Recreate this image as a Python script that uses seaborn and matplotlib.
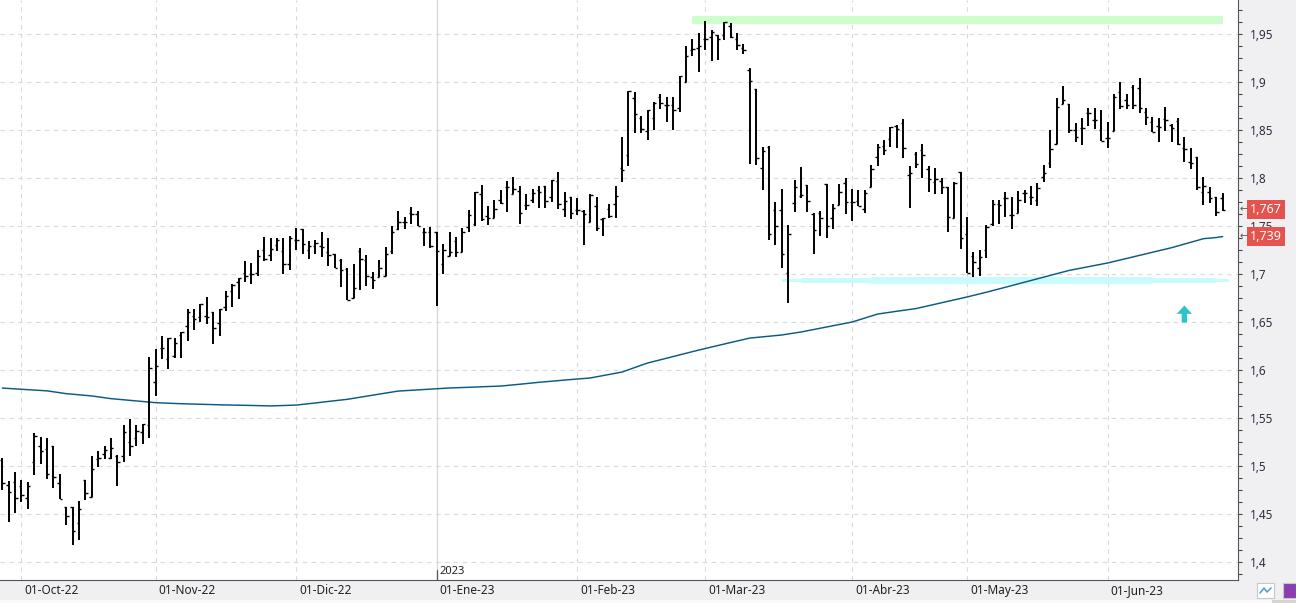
import numpy as np
import pandas as pd
import matplotlib
matplotlib.use("Agg")
import matplotlib.pyplot as plt
import matplotlib.ticker as mticker
import matplotlib.transforms as mtransforms
from matplotlib.patches import Rectangle
import seaborn as sns

# --------------- DATA ---------------
first_day = "2022-09-28"
last_day = "2023-06-27"
market_holidays = ["2023-04-07", "2023-04-10", "2023-05-01"]

opens = [
    1.506, 1.480, 1.483, 1.479, 1.467, 1.504, 1.521, 1.518, 1.521, 1.482, 1.457, 1.457,
    1.441, 1.485, 1.468, 1.507, 1.513, 1.508, 1.510, 1.510, 1.525, 1.529, 1.535, 1.543,
    1.588, 1.623, 1.612, 1.615, 1.636, 1.646, 1.656, 1.655, 1.656, 1.660, 1.649, 1.666,
    1.682, 1.692, 1.701, 1.700, 1.701, 1.725, 1.720, 1.730, 1.724, 1.710, 1.735, 1.747,
    1.725, 1.729, 1.729, 1.723, 1.721, 1.715, 1.705, 1.675, 1.724, 1.715, 1.697, 1.697,
    1.698, 1.724, 1.747, 1.754, 1.764, 1.763, 1.744, 1.744, 1.744, 1.710, 1.719, 1.734,
    1.723, 1.749, 1.752, 1.783, 1.760, 1.758, 1.777, 1.791, 1.783, 1.786, 1.772, 1.777,
    1.787, 1.792, 1.780, 1.797, 1.768, 1.780, 1.767, 1.766, 1.754, 1.771, 1.757, 1.768,
    1.773, 1.810, 1.824, 1.883, 1.862, 1.849, 1.862, 1.884, 1.876, 1.876, 1.873, 1.900,
    1.933, 1.935, 1.945, 1.947, 1.949, 1.949, 1.958, 1.945, 1.935, 1.912, 1.893, 1.810,
    1.832, 1.767, 1.767, 1.701, 1.774, 1.781, 1.793, 1.762, 1.764, 1.794, 1.758, 1.772,
    1.795, 1.775, 1.776, 1.768, 1.791, 1.822, 1.833, 1.841, 1.854, 1.857, 1.803, 1.825,
    1.829, 1.809, 1.796, 1.797, 1.791, 1.758, 1.806, 1.742, 1.719, 1.706, 1.725, 1.752,
    1.773, 1.779, 1.761, 1.764, 1.784, 1.780, 1.777, 1.801, 1.816, 1.835, 1.877, 1.877,
    1.850, 1.852, 1.868, 1.860, 1.850, 1.842, 1.849, 1.890, 1.881, 1.895, 1.894, 1.869,
    1.858, 1.854, 1.861, 1.855, 1.859, 1.831, 1.817, 1.822, 1.785, 1.785, 1.780, 1.779,
]
highs = [
    1.508, 1.484, 1.494, 1.485, 1.483, 1.534, 1.530, 1.529, 1.521, 1.492, 1.457, 1.457,
    1.464, 1.485, 1.510, 1.516, 1.521, 1.529, 1.511, 1.543, 1.549, 1.543, 1.544, 1.614,
    1.622, 1.635, 1.633, 1.633, 1.640, 1.664, 1.664, 1.669, 1.676, 1.660, 1.664, 1.682,
    1.690, 1.696, 1.714, 1.711, 1.725, 1.739, 1.737, 1.738, 1.737, 1.740, 1.748, 1.747,
    1.734, 1.735, 1.744, 1.738, 1.721, 1.716, 1.706, 1.710, 1.727, 1.720, 1.702, 1.715,
    1.728, 1.750, 1.766, 1.759, 1.770, 1.766, 1.748, 1.749, 1.744, 1.731, 1.744, 1.739,
    1.748, 1.767, 1.785, 1.793, 1.771, 1.777, 1.787, 1.797, 1.801, 1.792, 1.783, 1.789,
    1.792, 1.792, 1.798, 1.806, 1.785, 1.780, 1.779, 1.767, 1.783, 1.780, 1.758, 1.773,
    1.792, 1.843, 1.891, 1.890, 1.865, 1.871, 1.879, 1.888, 1.884, 1.884, 1.906, 1.937,
    1.945, 1.951, 1.964, 1.954, 1.949, 1.962, 1.961, 1.951, 1.940, 1.915, 1.893, 1.832,
    1.833, 1.775, 1.789, 1.751, 1.798, 1.811, 1.793, 1.764, 1.766, 1.794, 1.773, 1.794,
    1.800, 1.789, 1.788, 1.788, 1.814, 1.835, 1.840, 1.853, 1.855, 1.861, 1.813, 1.827,
    1.835, 1.812, 1.810, 1.800, 1.791, 1.796, 1.806, 1.759, 1.723, 1.725, 1.751, 1.777,
    1.777, 1.785, 1.780, 1.786, 1.788, 1.792, 1.795, 1.814, 1.850, 1.883, 1.896, 1.877,
    1.857, 1.863, 1.873, 1.873, 1.871, 1.858, 1.887, 1.900, 1.888, 1.897, 1.904, 1.873,
    1.864, 1.863, 1.874, 1.856, 1.863, 1.843, 1.831, 1.822, 1.801, 1.791, 1.780, 1.784,
]
lows = [
    1.475, 1.442, 1.451, 1.463, 1.455, 1.491, 1.502, 1.486, 1.477, 1.466, 1.439, 1.418,
    1.423, 1.465, 1.468, 1.499, 1.507, 1.507, 1.479, 1.504, 1.510, 1.521, 1.523, 1.529,
    1.573, 1.611, 1.601, 1.613, 1.613, 1.630, 1.642, 1.650, 1.648, 1.627, 1.635, 1.661,
    1.666, 1.674, 1.692, 1.690, 1.698, 1.714, 1.714, 1.724, 1.700, 1.704, 1.725, 1.721,
    1.716, 1.721, 1.718, 1.708, 1.706, 1.686, 1.673, 1.675, 1.683, 1.687, 1.684, 1.697,
    1.698, 1.721, 1.746, 1.747, 1.752, 1.750, 1.729, 1.727, 1.667, 1.700, 1.719, 1.718,
    1.723, 1.744, 1.750, 1.755, 1.751, 1.758, 1.773, 1.765, 1.783, 1.752, 1.767, 1.774,
    1.769, 1.769, 1.775, 1.768, 1.759, 1.757, 1.761, 1.730, 1.754, 1.745, 1.740, 1.758,
    1.758, 1.796, 1.813, 1.847, 1.847, 1.840, 1.850, 1.872, 1.858, 1.850, 1.869, 1.900,
    1.927, 1.910, 1.933, 1.922, 1.923, 1.944, 1.946, 1.933, 1.929, 1.815, 1.814, 1.787,
    1.735, 1.730, 1.706, 1.670, 1.765, 1.779, 1.765, 1.721, 1.740, 1.738, 1.747, 1.772,
    1.762, 1.755, 1.771, 1.764, 1.791, 1.813, 1.824, 1.832, 1.831, 1.821, 1.769, 1.810,
    1.800, 1.785, 1.783, 1.783, 1.744, 1.758, 1.726, 1.701, 1.697, 1.698, 1.717, 1.750,
    1.752, 1.759, 1.747, 1.764, 1.774, 1.772, 1.771, 1.796, 1.810, 1.835, 1.877, 1.847,
    1.837, 1.834, 1.854, 1.851, 1.839, 1.831, 1.849, 1.872, 1.872, 1.872, 1.868, 1.855,
    1.848, 1.838, 1.849, 1.838, 1.834, 1.817, 1.809, 1.787, 1.772, 1.774, 1.760, 1.766,
]
closes = [
    1.482, 1.473, 1.467, 1.470, 1.479, 1.531, 1.516, 1.492, 1.489, 1.466, 1.448, 1.432,
    1.455, 1.472, 1.497, 1.508, 1.517, 1.519, 1.504, 1.535, 1.521, 1.537, 1.544, 1.602,
    1.604, 1.623, 1.633, 1.628, 1.640, 1.660, 1.653, 1.669, 1.655, 1.644, 1.664, 1.677,
    1.689, 1.696, 1.698, 1.700, 1.719, 1.716, 1.726, 1.735, 1.710, 1.737, 1.735, 1.731,
    1.729, 1.732, 1.728, 1.720, 1.706, 1.704, 1.673, 1.685, 1.716, 1.698, 1.694, 1.706,
    1.721, 1.744, 1.754, 1.754, 1.763, 1.750, 1.744, 1.729, 1.724, 1.725, 1.723, 1.723,
    1.744, 1.761, 1.785, 1.757, 1.758, 1.768, 1.774, 1.791, 1.789, 1.764, 1.772, 1.784,
    1.785, 1.776, 1.798, 1.773, 1.776, 1.764, 1.767, 1.762, 1.782, 1.748, 1.758, 1.760,
    1.781, 1.808, 1.891, 1.867, 1.851, 1.871, 1.878, 1.878, 1.876, 1.871, 1.906, 1.927,
    1.934, 1.937, 1.945, 1.952, 1.945, 1.962, 1.947, 1.939, 1.933, 1.901, 1.821, 1.828,
    1.742, 1.750, 1.721, 1.742, 1.791, 1.782, 1.776, 1.746, 1.758, 1.750, 1.769, 1.785,
    1.775, 1.775, 1.771, 1.784, 1.809, 1.832, 1.829, 1.853, 1.851, 1.831, 1.805, 1.815,
    1.824, 1.799, 1.799, 1.791, 1.759, 1.795, 1.737, 1.701, 1.713, 1.718, 1.749, 1.773,
    1.772, 1.779, 1.761, 1.777, 1.784, 1.780, 1.790, 1.805, 1.830, 1.874, 1.881, 1.850,
    1.843, 1.852, 1.868, 1.860, 1.839, 1.842, 1.884, 1.875, 1.876, 1.876, 1.873, 1.864,
    1.848, 1.853, 1.860, 1.852, 1.835, 1.830, 1.816, 1.791, 1.792, 1.779, 1.765, 1.767,
]
# long moving average (dark blue line)
ma_line = [
    1.5812, 1.5808, 1.5804, 1.5800, 1.5796, 1.5792, 1.5788, 1.5783, 1.5773, 1.5764, 1.5754, 1.5748,
    1.5742, 1.5736, 1.5730, 1.5721, 1.5711, 1.5702, 1.5696, 1.5690, 1.5684, 1.5678, 1.5672, 1.5666,
    1.5660, 1.5657, 1.5655, 1.5652, 1.5649, 1.5647, 1.5645, 1.5642, 1.5640, 1.5639, 1.5637, 1.5636,
    1.5635, 1.5634, 1.5632, 1.5631, 1.5629, 1.5628, 1.5626, 1.5628, 1.5630, 1.5633, 1.5635, 1.5642,
    1.5650, 1.5657, 1.5665, 1.5672, 1.5680, 1.5687, 1.5695, 1.5706, 1.5717, 1.5727, 1.5738, 1.5749,
    1.5760, 1.5770, 1.5781, 1.5785, 1.5789, 1.5793, 1.5797, 1.5801, 1.5805, 1.5809, 1.5813, 1.5815,
    1.5818, 1.5820, 1.5823, 1.5825, 1.5828, 1.5830, 1.5833, 1.5839, 1.5846, 1.5852, 1.5859, 1.5865,
    1.5872, 1.5878, 1.5885, 1.5890, 1.5896, 1.5901, 1.5906, 1.5912, 1.5917, 1.5929, 1.5942, 1.5954,
    1.5967, 1.5979, 1.6003, 1.6026, 1.6050, 1.6073, 1.6090, 1.6107, 1.6124, 1.6141, 1.6158, 1.6175,
    1.6191, 1.6208, 1.6224, 1.6239, 1.6255, 1.6271, 1.6286, 1.6302, 1.6318, 1.6333, 1.6339, 1.6346,
    1.6352, 1.6359, 1.6365, 1.6375, 1.6386, 1.6396, 1.6409, 1.6422, 1.6435, 1.6448, 1.6461, 1.6474,
    1.6487, 1.6500, 1.6521, 1.6542, 1.6562, 1.6583, 1.6593, 1.6602, 1.6612, 1.6621, 1.6631, 1.6640,
    1.6655, 1.6670, 1.6685, 1.6700, 1.6715, 1.6731, 1.6746, 1.6761, 1.6777, 1.6792, 1.6810, 1.6827,
    1.6845, 1.6862, 1.6880, 1.6897, 1.6915, 1.6932, 1.6950, 1.6968, 1.6985, 1.7003, 1.7020, 1.7038,
    1.7051, 1.7064, 1.7076, 1.7089, 1.7102, 1.7115, 1.7131, 1.7147, 1.7162, 1.7178, 1.7194, 1.7210,
    1.7226, 1.7242, 1.7258, 1.7274, 1.7293, 1.7312, 1.7330, 1.7349, 1.7368, 1.7374, 1.7380, 1.7390,
]

month_labels = ["01-Oct-22", "01-Nov-22", "01-Dic-22", "01-Ene-23", "01-Feb-23",
                "01-Mar-23", "01-Abr-23", "01-May-23", "01-Jun-23"]

# drawn zones: resistance (green) and support (cyan) + buy arrow
resistance_from, resistance_to = "2023-02-27", "2023-06-27"
resistance_zone = (1.9604, 1.9688)
support_from, support_to = "2023-03-17", "2023-06-27"
support_level = 1.6935
arrow_day = "2023-06-19"
arrow_span = (1.6495, 1.6672)

# --------------- BUILD TABLE ---------------
dates = pd.bdate_range(first_day, last_day, freq="C", holidays=market_holidays)
bars = pd.DataFrame({"date": dates, "open": opens, "high": highs,
                     "low": lows, "close": closes, "ma": ma_line})
bars["pos"] = np.arange(len(bars))
pos_of = dict(zip(bars["date"].dt.strftime("%Y-%m-%d"), bars["pos"]))

month_pos = bars.groupby(bars["date"].dt.to_period("M"))["pos"].min().iloc[1:].tolist()
new_year = bars.loc[bars["date"].dt.year != bars["date"].dt.year.iloc[0]].iloc[0]

# --------------- FIGURE ---------------
sns.set_style("white")
plt.rcParams["font.family"] = ["Noto Sans", "DejaVu Sans"]

W, H = 1296, 603
fig = plt.figure(figsize=(W / 100, H / 100), dpi=100, facecolor="#f0f0f2")
ax = fig.add_axes([0, 23 / H, 1238 / W, 580 / H])
ax.set_facecolor("white")

# grid
for v in np.arange(1.40, 1.951, 0.05):
    ax.axhline(v, color="#dadada", lw=0.8, ls=(0, (4, 4)), zorder=0)
for p in month_pos:
    if p == new_year["pos"]:
        ax.axvline(p, color="#d6d6d6", lw=0.9, zorder=0)
    else:
        ax.axvline(p, color="#dadada", lw=0.8, ls=(0, (4, 4)), zorder=0)

# zones
ax.fill_between([pos_of[resistance_from], pos_of[resistance_to]], *resistance_zone,
                color="#ccffcc", lw=0, zorder=1)
s0, s1 = pos_of[support_from], pos_of[support_to] + 1
ax.fill_between([s0, s1], support_level - 0.0016, support_level + 0.0014,
                color="#c8fcfc", lw=0, zorder=1)
ax.fill_between([s0 + 3, s1 - 2], support_level - 0.0027, support_level + 0.0022,
                color="#c8fcfc", lw=0, zorder=1)
ax.fill_between([s0 + 14, s1 - 12], support_level - 0.0036, support_level + 0.0030,
                color="#c8fcfc", lw=0, zorder=1)

# moving average
sns.lineplot(data=bars, x="pos", y="ma", color="#0b5a84", lw=1.05, ax=ax,
             legend=False, zorder=3)

# OHLC bars
ax.vlines(bars["pos"], bars["low"], bars["high"], color="black", lw=1.4, zorder=4)
ax.hlines(bars["open"], bars["pos"] - 0.38, bars["pos"], color="black", lw=1.0, zorder=4)
ax.hlines(bars["close"], bars["pos"], bars["pos"] + 0.38, color="black", lw=1.0, zorder=4)

# buy arrow
ap = pos_of[arrow_day]
ax.annotate("", xy=(ap, arrow_span[1]), xytext=(ap, arrow_span[0]),
            arrowprops=dict(arrowstyle="simple,head_length=0.6,head_width=1.1,tail_width=0.38",
                            color="#2ec4c4", lw=0, shrinkA=0, shrinkB=0), zorder=5)

# axes limits
ax.set_xlim(-0.36, 193.4)
ax.set_ylim(1.3813, 1.9854)
ax.set_xlabel("")
ax.set_ylabel("")

# y axis on the right, comma decimals
ax.yaxis.tick_right()
ax.set_yticks(np.arange(1.40, 1.951, 0.05))
ax.yaxis.set_minor_locator(mticker.MultipleLocator(0.0125))
ax.yaxis.set_major_formatter(mticker.FuncFormatter(
    lambda v, _: f"{v:.2f}".rstrip("0").replace(".", ",")))
ax.tick_params(axis="y", which="both", length=2.8, width=0.8, color="#444444",
               pad=6, labelsize=8.5, labelcolor="#2e2e44")

# x axis: month labels to the right of their tick
ax.set_xticks(month_pos, month_labels)
ax.tick_params(axis="x", length=5.8, width=0.8, color="#444444", pad=-3,
               labelsize=8.5, labelcolor="#222222")
shift = mtransforms.ScaledTranslation(3 / 100, 0, fig.dpi_scale_trans)
for lab in ax.get_xticklabels():
    lab.set_horizontalalignment("left")
    lab.set_transform(lab.get_transform() + shift)

for side in ["top", "left"]:
    ax.spines[side].set_visible(False)
for side in ["right", "bottom"]:
    ax.spines[side].set_color("#555555")
    ax.spines[side].set_linewidth(0.8)

# year marker
btrans = mtransforms.blended_transform_factory(ax.transData, ax.transAxes)
ax.plot([new_year["pos"], new_year["pos"]], [0, 0.018], color="#555555", lw=0.9,
        transform=btrans, clip_on=False, zorder=6)
ax.annotate(str(new_year["date"].year), xy=(new_year["pos"], 0), xycoords=btrans,
            xytext=(3, 3), textcoords="offset pixels", fontsize=8, color="#222222",
            ha="left", va="bottom")

# last value tags
for val in [bars["close"].iloc[-1], bars["ma"].iloc[-1]]:
    txt = f"{val:.3f}".replace(".", ",")
    ax.annotate(txt, xy=(1, val), xycoords=("axes fraction", "data"),
                xytext=(12, 0), textcoords="offset pixels", ha="left", va="center",
                fontsize=9, color="white", annotation_clip=False, zorder=10,
                bbox=dict(boxstyle="square,pad=0.22", fc="#e5534f", ec="none"))
    ax.annotate("\u2190", xy=(1, val), xycoords=("axes fraction", "data"),
                xytext=(2, 0), textcoords="offset pixels", ha="left", va="center",
                fontsize=7, color="#555555", annotation_clip=False, zorder=10)

# bottom strip and the two small toolbar buttons
fig.add_artist(Rectangle((0, 0), 1, 3 / H, transform=fig.transFigure,
                         fc="#fafafa", ec="none"))
fig.add_artist(Rectangle((1272 / W, 0), 24 / W, 3 / H, transform=fig.transFigure,
                         fc="#d4d4d4", ec="none"))
fig.add_artist(Rectangle((1257 / W, 5 / H), 17 / W, 15 / H, transform=fig.transFigure,
                         fc="white", ec="#c8c8c8", lw=0.8))
fig.add_artist(plt.Line2D([1260 / W, 1264 / W, 1267 / W, 1271 / W],
                          [10 / H, 15 / H, 11 / H, 15 / H], transform=fig.transFigure,
                          color="#5aa0d8", lw=1.2))
fig.add_artist(Rectangle((1283 / W, 5 / H), 13 / W, 15 / H, transform=fig.transFigure,
                         fc="#8a3fb0", ec="#c8c8c8", lw=0.8))

fig.savefig("out.png", dpi=100, facecolor=fig.get_facecolor())
